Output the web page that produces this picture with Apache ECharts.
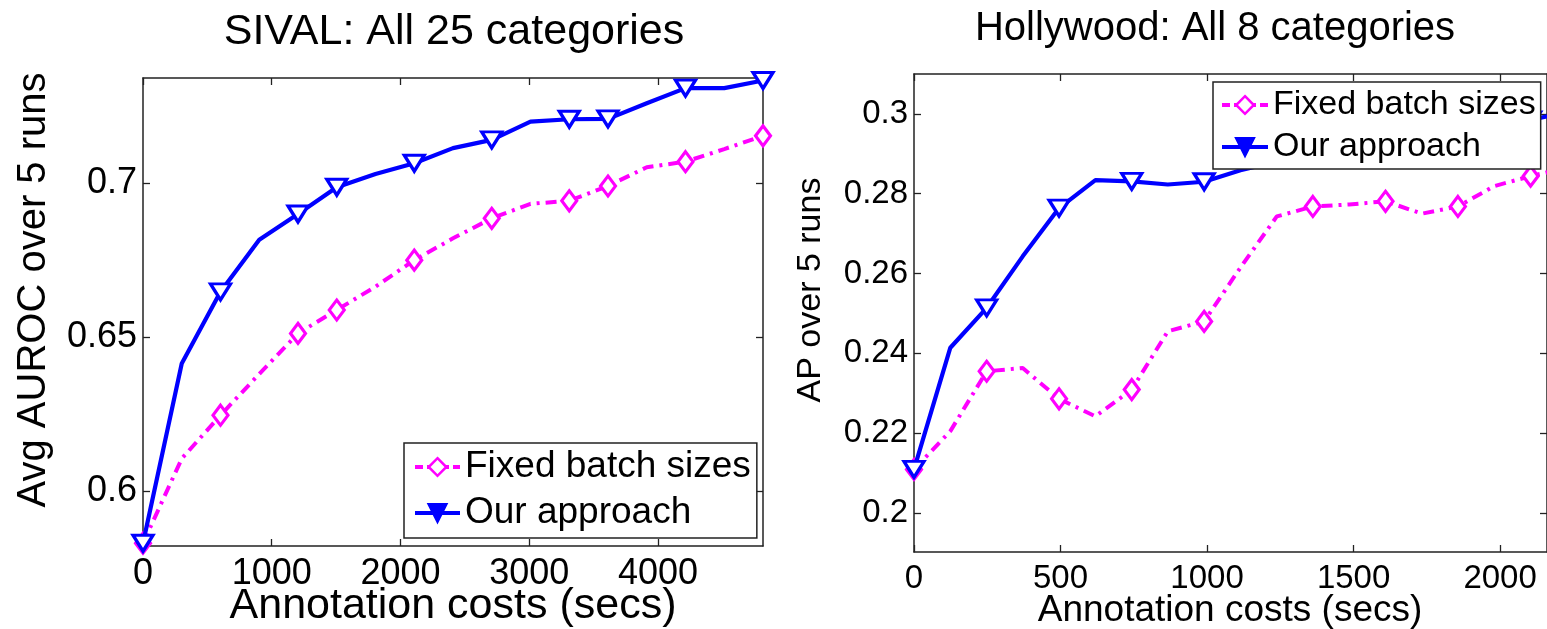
<!DOCTYPE html>
<html>
<head>
<meta charset="utf-8">
<script src="https://cdn.jsdelivr.net/npm/echarts@6/dist/echarts.min.js"></script>
<style>
  html, body { margin: 0; padding: 0; background: #fff; }
  #chart { width: 1547px; height: 629px; }
</style>
</head>
<body>
<div id="chart"></div>
<script>
// ---- SIVAL panel: annotation cost (secs) vs. average AUROC ----
const sivalCost  = [0, 301, 602, 903, 1204, 1505, 1806, 2107, 2408, 2709, 3010, 3311, 3612, 3913, 4214, 4515, 4816];
const sivalFixed = [0.583, 0.6105, 0.6246, 0.638, 0.6512, 0.6588, 0.6664, 0.675, 0.6821, 0.6886, 0.6933, 0.6943, 0.6991, 0.7052, 0.707, 0.7111, 0.7154];
const sivalOurs  = [0.583, 0.6414, 0.6647, 0.6816, 0.690, 0.6987, 0.703, 0.7065, 0.7114, 0.7141, 0.720, 0.7208, 0.7209, 0.726, 0.7309, 0.7309, 0.7334];
const sivalMarked = [0, 2, 4, 5, 7, 9, 11, 12, 14, 16];
const sivalXTicks = [0, 1000, 2000, 3000, 4000];
const sivalYTicks = [0.6, 0.65, 0.7];

// ---- Hollywood panel: annotation cost (secs) vs. AP ----
const hollyCost  = [0, 124, 248, 371, 495, 619, 743, 866, 990, 1114, 1238, 1361, 1485, 1609, 1733, 1856, 1980, 2104, 2228];
const hollyFixed = [0.2109, 0.2205, 0.2355, 0.2363, 0.2286, 0.2242, 0.2309, 0.2455, 0.248, 0.2615, 0.2743, 0.2768, 0.2773, 0.2781, 0.275, 0.2768, 0.2819, 0.2844, 0.2865];
const hollyOurs  = [0.2109, 0.2414, 0.2514, 0.2643, 0.2764, 0.2834, 0.2831, 0.2823, 0.283, 0.2859, 0.288, 0.290, 0.2915, 0.293, 0.2945, 0.296, 0.2975, 0.2985, 0.3005];
const hollyMarked = [0, 2, 4, 6, 8, 11, 13, 15, 17];
const hollyXTicks = [0, 500, 1000, 1500, 2000];
const hollyYTicks = [0.2, 0.22, 0.24, 0.26, 0.28, 0.3];

const seriesNames = ['Fixed batch sizes', 'Our approach'];
const panelTitles = ['SIVAL: All 25 categories', 'Hollywood: All 8 categories'];
const yTitles = ['Avg AUROC over 5 runs', 'AP over 5 runs'];
const xTitle = 'Annotation costs (secs)';

const FONT = '"Liberation Sans", Arial, Helvetica, sans-serif';
const MAGENTA = '#ff00ff';
const BLUE = '#0000ff';
const AXIS = '#222';

function points(xs, ys, marked) {
  return xs.map((x, i) => {
    const item = { value: [x, ys[i]] };
    if (marked.indexOf(i) < 0) item.symbol = 'none';
    return item;
  });
}

function fmt(v) { return String(+Number(v).toFixed(3)); }

function xAxes(gridIndex, max, ticks, fontSize) {
  const base = {
    type: 'value', gridIndex, min: 0, max,
    splitLine: { show: false },
    axisLine: { show: true, onZero: false, lineStyle: { color: AXIS, width: 1.5 } },
    axisTick: { show: true, inside: true, length: 7, customValues: ticks, lineStyle: { color: AXIS, width: 1.3 } }
  };
  return [
    Object.assign({}, base, {
      position: 'bottom',
      axisLabel: { show: true, customValues: ticks, formatter: fmt, fontSize, fontFamily: FONT, color: '#000', margin: 10 }
    }),
    Object.assign({}, base, { position: 'top', axisLabel: { show: false } })
  ];
}

function yAxes(gridIndex, min, max, ticks, fontSize) {
  const base = {
    type: 'value', gridIndex, min, max, scale: true,
    splitLine: { show: false },
    axisLine: { show: true, onZero: false, lineStyle: { color: AXIS, width: 1.5 } },
    axisTick: { show: true, inside: true, length: 7, customValues: ticks, lineStyle: { color: AXIS, width: 1.3 } }
  };
  return [
    Object.assign({}, base, {
      position: 'left',
      axisLabel: { show: true, customValues: ticks, formatter: fmt, fontSize, fontFamily: FONT, color: '#000', margin: 6 }
    }),
    Object.assign({}, base, { position: 'right', axisLabel: { show: false } })
  ];
}

function fixedSeries(xi, yi, data) {
  return {
    type: 'line', name: seriesNames[0], xAxisIndex: xi, yAxisIndex: yi, data,
    symbol: 'diamond', symbolSize: [15, 20],
    lineStyle: { color: MAGENTA, width: 4, type: [11, 6, 3, 6] },
    itemStyle: { color: '#fff', borderColor: MAGENTA, borderWidth: 3.2 },
    emphasis: { disabled: true }, silent: true, z: 2
  };
}

function oursSeries(xi, yi, data) {
  return {
    type: 'line', name: seriesNames[1], xAxisIndex: xi, yAxisIndex: yi, data,
    symbol: 'triangle', symbolRotate: 180, symbolSize: [20, 16],
    lineStyle: { color: BLUE, width: 4.2 },
    itemStyle: { color: '#fff', borderColor: BLUE, borderWidth: 3.2 },
    emphasis: { disabled: true }, silent: true, z: 3
  };
}

function legendData() {
  return [
    { name: seriesNames[0], itemStyle: { color: '#fff', borderColor: MAGENTA, borderWidth: 2.5 },
      lineStyle: { color: MAGENTA, width: 4, type: [8, 4, 3, 4] } },
    { name: seriesNames[1], itemStyle: { color: BLUE, borderColor: BLUE, borderWidth: 2.5 },
      lineStyle: { color: BLUE, width: 4 } }
  ];
}

function label(text, x, y, size, rotation) {
  return {
    type: 'text', x, y, rotation: rotation || 0, silent: true,
    style: { text, fill: '#000', font: size + 'px ' + FONT, textAlign: 'center', textVerticalAlign: 'middle' }
  };
}

const chart = echarts.init(document.getElementById('chart'), null, { renderer: 'canvas' });

chart.setOption({
  animation: false,
  backgroundColor: '#fff',
  grid: [
    { left: 143, top: 78, width: 620, height: 468, containLabel: false },
    { left: 914, top: 74, width: 637, height: 478, containLabel: false }
  ],
  xAxis: [].concat(
    xAxes(0, 4816, sivalXTicks, 36),
    xAxes(1, 2160, hollyXTicks, 33)
  ),
  yAxis: [].concat(
    yAxes(0, 0.5821, 0.7342, sivalYTicks, 36),
    yAxes(1, 0.1902, 0.3100, hollyYTicks, 33)
  ),
  legend: [
    {
      left: 404, top: 443, orient: 'vertical', selectedMode: false,
      padding: [4, 6, 5, 9], itemWidth: 45, itemHeight: 22, itemGap: 6,
      backgroundColor: '#fff', borderColor: AXIS, borderWidth: 1.5,
      textStyle: { fontSize: 37, lineHeight: 40, color: '#000', fontFamily: FONT },
      data: legendData()
    },
    {
      left: 1213, top: 82, orient: 'vertical', selectedMode: false,
      padding: [5, 5, 4, 7], itemWidth: 46, itemHeight: 22, itemGap: 6,
      backgroundColor: '#fff', borderColor: AXIS, borderWidth: 1.5,
      textStyle: { fontSize: 34, lineHeight: 36, color: '#000', fontFamily: FONT },
      data: legendData()
    }
  ],
  series: [
    fixedSeries(0, 0, points(sivalCost, sivalFixed, sivalMarked)),
    oursSeries(0, 0, points(sivalCost, sivalOurs, sivalMarked)),
    fixedSeries(2, 2, points(hollyCost, hollyFixed, hollyMarked)),
    oursSeries(2, 2, points(hollyCost, hollyOurs, hollyMarked))
  ],
  graphic: [
    label(panelTitles[0], 454, 32, 43),
    label(panelTitles[1], 1215, 29, 40),
    label(yTitles[0], 34, 290, 40, Math.PI / 2),
    label(yTitles[1], 811, 290, 34, Math.PI / 2),
    label(xTitle, 453, 606, 43),
    label(xTitle, 1230, 611, 37)
  ]
});
</script>
</body>
</html>
